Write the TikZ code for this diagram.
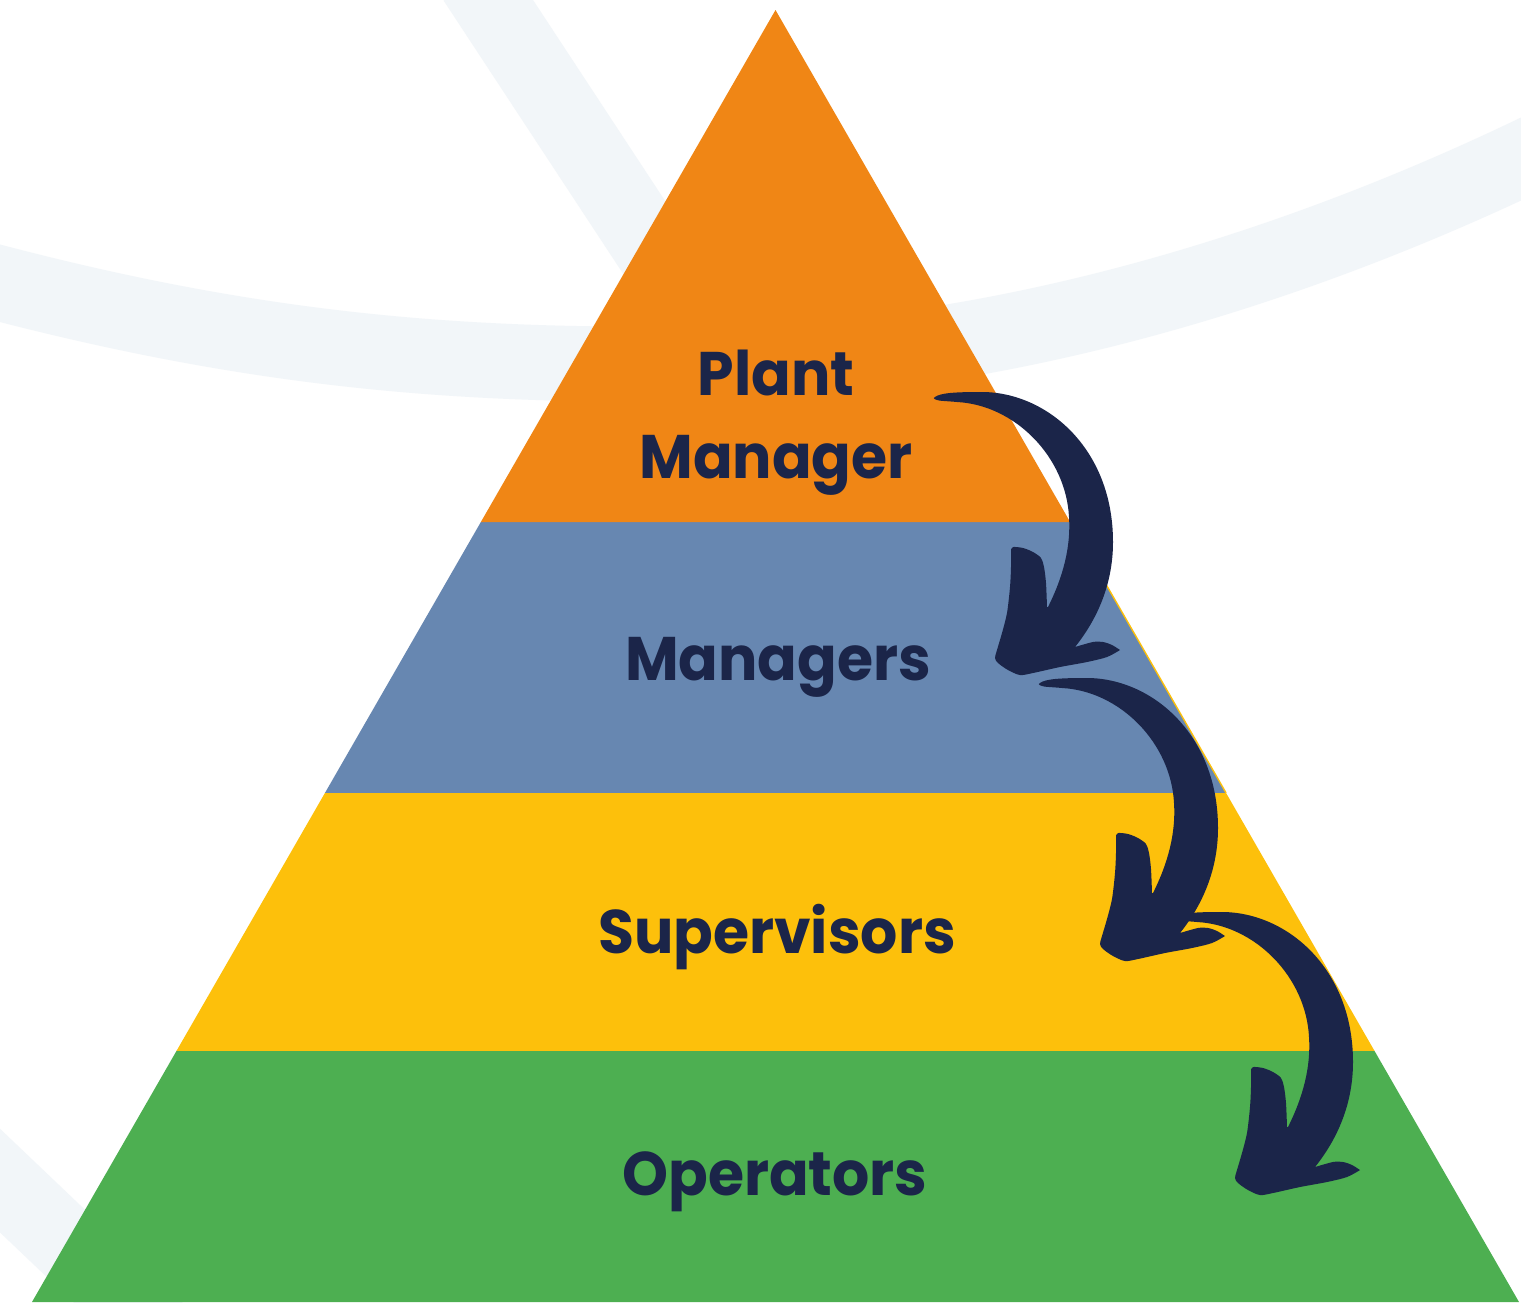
\documentclass[tikz,border=0pt]{standalone}
\usepackage{fontspec}
\setmainfont{Poppins}[FakeStretch=0.95]
\usetikzlibrary{positioning, calc}

\definecolor{bgband}{HTML}{F2F6F9}
\definecolor{lvlorange}{HTML}{F08615}
\definecolor{lvlblue}{HTML}{6787B1}
\definecolor{lvlyellow}{HTML}{FDC00B}
\definecolor{lvlgreen}{HTML}{4DAF51}
\definecolor{navy}{HTML}{1B2549}

\begin{document}
\begin{tikzpicture}[x=0.01cm, y=-0.01cm,
	lvltext/.style={font=\fontsize{17.5}{23.6}\selectfont\bfseries, text=navy, align=center, inner sep=0pt},
	swoosh/.style={draw=bgband, line width=0.75cm},
	flowarrow/.pic={
		\fill[navy] (0,0) .. controls (5,-4) and (20,-5) .. (45,-5)
		.. controls (110,-6) and (178,50) .. (178,145)
		.. controls (178,190) and (160,225) .. (140,250)
		-- plot[smooth] coordinates {(140,250) (158,245) (168,245) (177,248) (185,253)}
		-- plot[smooth] coordinates {(185,253) (172,260) (152,265) (125,270) (98,276) (85,278) (73,273) (63,266) (60,261) (62,253) (67,236) (72,216) (75,190) (76,170) (76,153)}
		-- plot[smooth] coordinates {(76,153) (78,150) (88,151) (98,155) (106,161) (109,170) (111,186) (112,210)}
		-- (113,210) .. controls (128,180) and (136,150) .. (134,120)
		.. controls (131,60) and (80,8) .. (22,5)
		.. controls (12,4) and (4,4) .. (2,3)
		.. controls (-2,2) and (-2,0) .. (0,0) -- cycle;
	}]
	\useasboundingbox (0,0) rectangle (1521,1302);
	\fill[white] (0,0) rectangle (1521,1302);

	\draw[swoosh] (-20,278) .. controls (250,350) and (450,366) .. (680,364) .. controls (950,366) and (1250,290) .. (1540,150);
	\draw[swoosh] (475,-20) -- (705,330);
	\draw[swoosh] (-30,1152) -- (160,1333);

	\coordinate (apex) at (775.5,10);
	\coordinate (bl) at (32,1302);
	\coordinate (br) at (1519,1302);
	\coordinate (l_1) at ($(apex)!0.3963!(bl)$);
	\coordinate (r_1) at ($(apex)!0.3963!(br)$);
	\coordinate (l_2) at ($(apex)!0.6060!(bl)$);
	\coordinate (r_2) at ($(apex)!0.6060!(br)$);
	\coordinate (l_3) at ($(apex)!0.8057!(bl)$);
	\coordinate (r_3) at ($(apex)!0.8057!(br)$);

	\fill[lvlgreen] (l_3) -- (r_3) -- (br) -- (bl) -- cycle;
	\fill[lvlyellow] (l_2) -- (r_2) -- (r_3) -- (l_3) -- cycle;
	\fill[lvlblue] (l_1) -- (r_1) -- (r_2) -- (l_2) -- cycle;
	\draw[lvlyellow, line width=0.4pt] (r_1) -- (r_2);
	\fill[lvlorange] (apex) -- (r_1) -- (l_1) -- cycle;

	\node[lvltext] (plant_mgr) at (776,423) {Plant\\Manager};
	\node[lvltext, anchor=base] (managers) at (778,680) {Managers};
	\node[lvltext, anchor=base] (supervisors) at (777,953) {Supervisors};
	\node[lvltext, anchor=base] (operators) at (775,1195) {Operators};

	\coordinate (a_1) at (935,397);
	\coordinate (a_2) at (1040,683);
	\coordinate (a_3) at (1175,917);
	\pic at (a_1) {flowarrow};
	\pic at (a_2) {flowarrow};
	\pic at (a_3) {flowarrow};
\end{tikzpicture}
\end{document}
